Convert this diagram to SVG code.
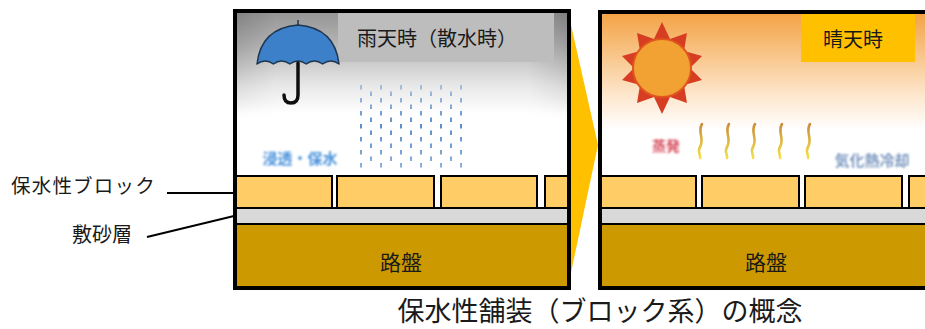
<svg xmlns="http://www.w3.org/2000/svg" width="925" height="329" viewBox="0 0 925 329">
  <defs>
    <style>
      .jp { font-family: "Noto Sans CJK JP", "Noto Sans", sans-serif; }
      .frame { fill: none; stroke: #000; stroke-width: 4; }
      .block { fill: #ffcc66; stroke: #000; stroke-width: 2; }
      .sand { fill: #d9d9d9; stroke: #000; stroke-width: 2; }
      .base { fill: #cc9900; stroke: #000; stroke-width: 2; }
      .lead { stroke: #000; stroke-width: 2; fill: none; }
      .wave { fill: none; stroke: url(#heat); stroke-width: 2.6; stroke-linecap: round; }
    </style>
    <linearGradient id="rainSky" gradientUnits="userSpaceOnUse" x1="0" y1="13" x2="0" y2="175">
      <stop offset="0" stop-color="#959595"/>
      <stop offset="0.2" stop-color="#b6b6b6"/>
      <stop offset="0.45" stop-color="#e8e8e8"/>
      <stop offset="0.62" stop-color="#ffffff"/>
      <stop offset="1" stop-color="#ffffff"/>
    </linearGradient>
    <linearGradient id="rainEdge" x1="0" y1="0" x2="1" y2="0">
      <stop offset="0" stop-color="#606060" stop-opacity="0.35"/>
      <stop offset="0.12" stop-color="#606060" stop-opacity="0"/>
      <stop offset="0.88" stop-color="#606060" stop-opacity="0"/>
      <stop offset="1" stop-color="#606060" stop-opacity="0.4"/>
    </linearGradient>
    <linearGradient id="rainEdgeFade" gradientUnits="userSpaceOnUse" x1="0" y1="13" x2="0" y2="120">
      <stop offset="0" stop-color="#fff" stop-opacity="1"/>
      <stop offset="1" stop-color="#fff" stop-opacity="0"/>
    </linearGradient>
    <mask id="edgeMask">
      <rect x="235" y="13" width="334" height="110" fill="url(#rainEdgeFade)"/>
    </mask>
    <linearGradient id="sunSky" gradientUnits="userSpaceOnUse" x1="0" y1="14" x2="0" y2="175">
      <stop offset="0" stop-color="#f4a446"/>
      <stop offset="0.25" stop-color="#f8c488"/>
      <stop offset="0.5" stop-color="#fde6cc"/>
      <stop offset="0.72" stop-color="#ffffff"/>
      <stop offset="1" stop-color="#ffffff"/>
    </linearGradient>
    <linearGradient id="heat" gradientUnits="userSpaceOnUse" x1="0" y1="123" x2="0" y2="158">
      <stop offset="0" stop-color="#c98a3a"/>
      <stop offset="1" stop-color="#f2e04a"/>
    </linearGradient>
    <linearGradient id="rainFade" gradientUnits="userSpaceOnUse" x1="0" y1="83" x2="0" y2="168">
      <stop offset="0" stop-color="#fff" stop-opacity="0.45"/>
      <stop offset="0.5" stop-color="#fff" stop-opacity="1"/>
      <stop offset="1" stop-color="#fff" stop-opacity="0.7"/>
    </linearGradient>
    <mask id="rainMask">
      <rect x="355" y="83" width="110" height="85" fill="url(#rainFade)"/>
    </mask>
    <pattern id="drops" patternUnits="userSpaceOnUse" x="358" y="84" width="20" height="13">
      <rect x="2" y="1" width="2" height="4.5" fill="#5b8fcc"/>
      <rect x="12" y="7.5" width="2" height="4.5" fill="#5b8fcc"/>
    </pattern>
    <filter id="soft" x="-10%" y="-10%" width="120%" height="120%">
      <feGaussianBlur stdDeviation="0.6"/>
    </filter>
    <filter id="softer" x="-10%" y="-20%" width="120%" height="140%">
      <feGaussianBlur stdDeviation="0.9"/>
    </filter>
  </defs>

  <!-- chevron between the two states -->
  <g id="chevron">
    <polygon points="569,16 598,145 569,282" fill="#ffc000"/>
  </g>

  <!-- rainy / sprinkled state -->
  <g id="rain-panel">
    <rect x="235" y="13" width="334" height="162" fill="url(#rainSky)"/>
    <rect x="235" y="13" width="334" height="110" fill="url(#rainEdge)" mask="url(#edgeMask)"/>
    <rect x="338" y="13" width="216" height="49" fill="#bdbdbd"/>
    <text class="jp" x="437" y="46" font-size="20" text-anchor="middle" fill="#1a1a1a">雨天時（散水時）</text>

    <g id="umbrella" filter="url(#soft)">
      <line x1="298" y1="20" x2="298" y2="27" stroke="#1f3550" stroke-width="1.5"/>
      <path d="M257,64 Q261,28 298,25 Q335,28 339,64 q-8.2,-6 -16.4,0 q-8.2,-6 -16.4,0 q-8.2,-6 -16.4,0 q-8.2,-6 -16.4,0 q-8.2,-6 -16.4,0 Z" fill="#3a80c8" stroke="#1f3550" stroke-width="1.5" stroke-linejoin="round"/>
      <path d="M298,63 L298,95 Q298,103 291,103 Q284,103 284,95" fill="none" stroke="#111" stroke-width="3.5" stroke-linecap="round"/>
    </g>

    <g id="rain" filter="url(#soft)">
      <rect x="356" y="83" width="108" height="85" fill="url(#drops)" mask="url(#rainMask)"/>
    </g>

    <text class="jp" x="300" y="164" font-size="15" font-weight="bold" text-anchor="middle" fill="#4a93dc" filter="url(#softer)">浸透・保水</text>

    <rect x="235" y="175" width="334" height="33" fill="#fff"/>
    <rect class="block" x="235" y="176" width="97" height="32"/>
    <rect class="block" x="337" y="176" width="97" height="32"/>
    <rect class="block" x="441" y="176" width="96" height="32"/>
    <rect class="block" x="545" y="176" width="24" height="32"/>
    <rect class="sand" x="235" y="208" width="334" height="16"/>
    <rect class="base" x="235" y="224" width="334" height="64"/>
    <text class="jp" x="401" y="270" font-size="21" text-anchor="middle" fill="#1a1a1a">路盤</text>
    <rect class="frame" x="235" y="11" width="334" height="277"/>
  </g>

  <!-- sunny state -->
  <g id="sun-panel">
    <rect x="600" y="14" width="330" height="161" fill="url(#sunSky)"/>
    <rect x="801" y="14" width="114" height="48" fill="#ffc000"/>
    <text class="jp" x="853" y="47" font-size="20" text-anchor="middle" fill="#1a1a1a">晴天時</text>

    <g id="sun" filter="url(#soft)">
      <polygon points="662,22 670,39 687,33 684,51 702,56 690,68 702,80 684,85 687,103 670,97 662,114 654,97 637,103 640,85 622,80 634,68 622,56 640,51 637,33 654,39" fill="#d63c22"/>
      <circle cx="662" cy="68" r="29" fill="#f2a232" stroke="#e0561e" stroke-width="2"/>
    </g>

    <text class="jp" x="666" y="151" font-size="14" font-weight="bold" text-anchor="middle" fill="#d64c5c" filter="url(#softer)">蒸発</text>

    <g id="heat-waves" filter="url(#soft)">
      <path class="wave" d="M702,124 C697,132 705,139 700,147 C697,152 701,155 700,158"/>
      <path class="wave" d="M729,124 C724,132 732,139 727,147 C724,152 728,155 727,158"/>
      <path class="wave" d="M755,124 C750,132 758,139 753,147 C750,152 754,155 753,158"/>
      <path class="wave" d="M782,124 C777,132 785,139 780,147 C777,152 781,155 780,158"/>
      <path class="wave" d="M810,124 C805,132 813,139 808,147 C805,152 809,155 808,158"/>
    </g>

    <text class="jp" x="872" y="166" font-size="15" font-weight="bold" text-anchor="middle" fill="#7b98c0" filter="url(#softer)">気化熱冷却</text>

    <rect x="600" y="175" width="330" height="33" fill="#fff"/>
    <rect class="block" x="601" y="176" width="95" height="32"/>
    <rect class="block" x="702" y="176" width="97" height="32"/>
    <rect class="block" x="805" y="176" width="97" height="32"/>
    <rect class="block" x="909" y="176" width="30" height="32"/>
    <rect class="sand" x="600" y="208" width="340" height="16"/>
    <rect class="base" x="600" y="224" width="340" height="64"/>
    <text class="jp" x="766" y="270" font-size="21" text-anchor="middle" fill="#1a1a1a">路盤</text>
    <rect class="frame" x="600" y="12" width="340" height="276"/>
  </g>

  <!-- leader lines for the layer names -->
  <g id="connectors">
    <line class="lead" x1="167" y1="193" x2="234" y2="193"/>
    <line class="lead" x1="147" y1="237" x2="234" y2="216"/>
  </g>

  <g id="label-block">
    <text class="jp" x="11" y="193" font-size="19.5" letter-spacing="1.2" fill="#1a1a1a">保水性ブロック</text>
  </g>
  <g id="label-sand">
    <text class="jp" x="72" y="242" font-size="20" fill="#1a1a1a">敷砂層</text>
  </g>

  <g id="caption">
    <text class="jp" x="600" y="321" font-size="27" text-anchor="middle" fill="#1a1a1a">保水性舗装（ブロック系）の概念</text>
  </g>
</svg>
